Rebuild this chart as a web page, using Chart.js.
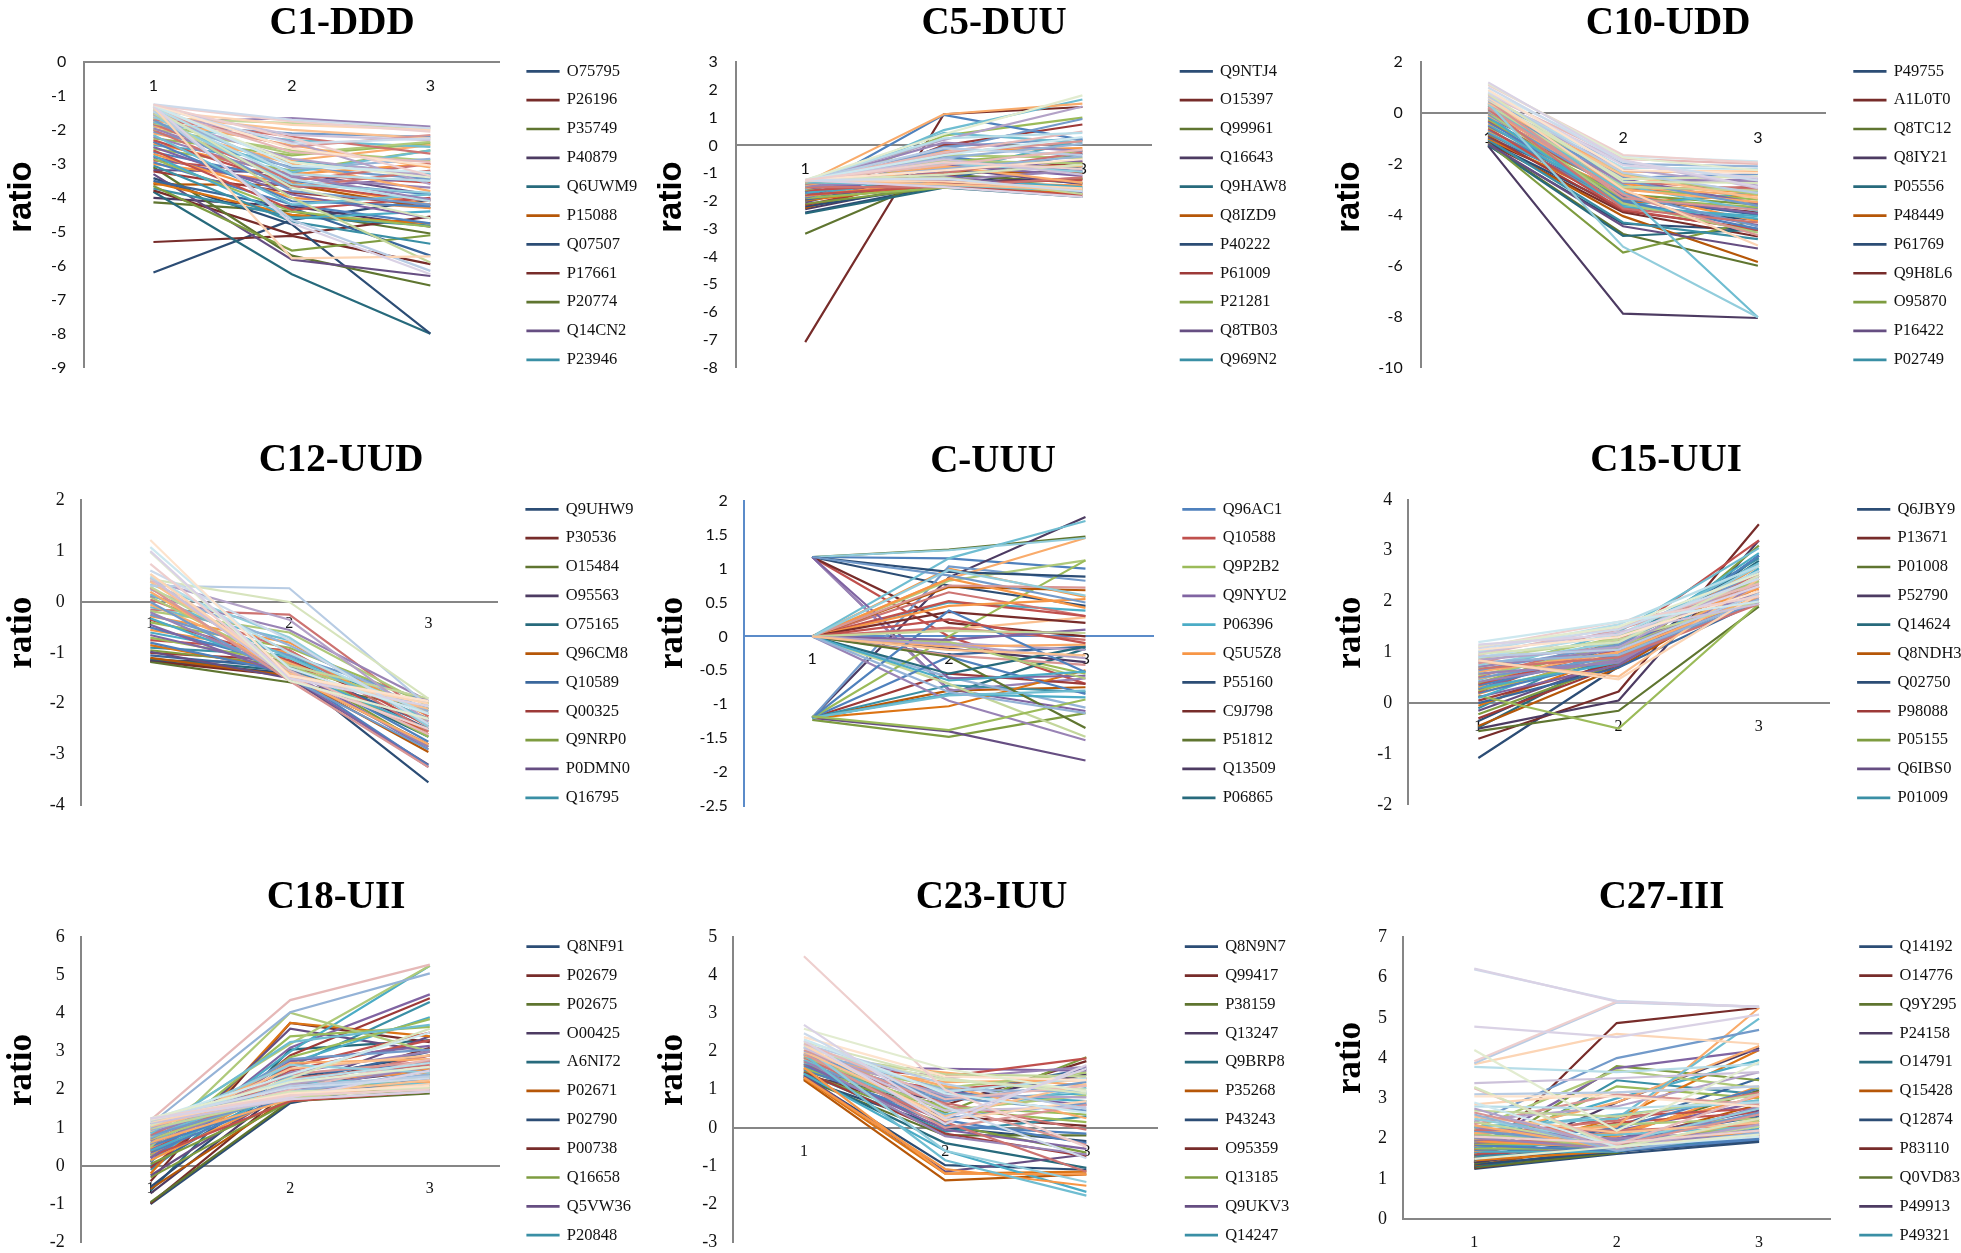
<!DOCTYPE html>
<html><head><meta charset="utf-8"><title>Protein ratio clusters</title>
<script src="https://cdn.jsdelivr.net/npm/chart.js@4/dist/chart.umd.js"></script>
<style>html,body{margin:0;padding:0;background:#fff;width:1961px;height:1253px;overflow:hidden}canvas{position:absolute;display:block;filter:blur(0.35px)}</style>
</head><body>
<script>
const categories=['1','2','3'];
const c1Ids=['O75795','P26196','P35749','P40879','Q6UWM9','P15088','Q07507','P17661','P20774','Q14CN2','P23946'];
const c1Lines=[[-6.2,-4.65,-4.05],[-5.3,-5.12,-5.95],[-4.13,-4.4,-5.05],[-4.0,-4.25,-4.85],[-3.82,-6.25,-8.0],[-3.6,-3.62,-4.3],[-3.42,-4.78,-8.0],[-3.78,-5.08,-4.55],[-3.1,-5.7,-6.58],[-3.3,-5.82,-6.3],[-3.72,-4.55,-4.82],[-3.55,-4.5,-4.75],[-3.5,-4.3,-5.7],[-3.22,-3.85,-4.2],[-3.65,-5.55,-5.1],[-3.18,-3.25,-3.9],[-3.05,-4.7,-5.35],[-3.0,-3.55,-4.2],[-2.95,-4.2,-4.75],[-2.9,-3.3,-3.55],[-2.85,-4.4,-4.85],[-2.8,-3.7,-3.4],[-2.75,-4.6,-4.4],[-2.7,-4.0,-4.3],[-2.65,-3.5,-3.9],[-2.6,-4.35,-4.0],[-2.55,-3.2,-2.6],[-2.5,-3.9,-4.6],[-2.45,-2.9,-3.3],[-2.4,-3.3,-3.0],[-2.35,-4.1,-4.25],[-2.3,-3.6,-4.1],[-2.25,-2.75,-2.4],[-2.2,-3.4,-3.7],[-2.15,-4.2,-3.9],[-2.1,-2.9,-2.45],[-2.05,-3.1,-3.45],[-2.0,-3.7,-3.2],[-1.98,-2.6,-2.9],[-1.95,-3.35,-4.05],[-1.9,-2.3,-2.5],[-1.88,-3.0,-3.8],[-1.85,-2.1,-2.2],[-1.82,-3.5,-3.0],[-1.8,-2.7,-2.35],[-1.78,-1.65,-1.9],[-1.75,-3.25,-2.6],[-1.72,-2.45,-3.1],[-1.7,-3.8,-4.2],[-1.68,-2.2,-2.7],[-1.65,-1.8,-1.95],[-1.62,-2.85,-3.35],[-1.6,-3.6,-3.85],[-1.58,-2.0,-2.25],[-1.55,-3.15,-2.85],[-1.52,-2.5,-2.15],[-1.5,-4.0,-5.9],[-1.48,-2.35,-3.6],[-1.46,-3.45,-4.1],[-1.44,-1.85,-2.0],[-1.42,-4.65,-6.15],[-1.4,-2.65,-2.95],[-1.38,-3.7,-4.6],[-1.36,-2.15,-2.3],[-1.34,-3.3,-3.5],[-1.32,-5.78,-5.72],[-1.31,-2.4,-2.25],[-1.28,-1.75,-2.05],[-1.29,-2.95,-3.4],[-1.3,-4.75,-6.25],[-1.27,-3.05,-3.25],[-1.26,-2.55,-3.05],[-1.25,-1.7,-1.95],[-1.25,-2.25,-3.35]];
const c5Ids=['Q9NTJ4','O15397','Q99961','Q16643','Q9HAW8','Q8IZD9','P40222','P61009','P21281','Q8TB03','Q969N2'];
const c5Lines=[[-2.42,-1.45,-0.75],[-7.08,1.12,1.38],[-3.18,-1.05,-1.35],[-2.3,-1.3,-1.2],[-2.45,-1.52,-1.85],[-2.25,-0.95,-1.0],[-2.2,-1.45,-1.55],[-2.15,-1.1,-0.6],[-2.1,-1.5,-1.2],[-2.05,-0.8,-1.4],[-2.0,-0.5,-0.85],[-1.98,-1.4,-1.75],[-1.95,-1.2,-0.3],[-1.92,0.0,0.75],[-1.9,-1.52,-1.6],[-1.88,-0.7,-1.1],[-1.85,-1.0,0.2],[-1.82,-1.3,-1.45],[-1.8,-0.4,-0.95],[-1.78,-1.45,-1.8],[-1.75,0.35,1.0],[-1.72,-0.9,-0.55],[-1.7,-1.2,-1.5],[-1.65,-0.2,-0.1],[-1.68,1.1,0.2],[-1.62,-1.35,-1.25],[-1.6,-0.6,-0.2],[-1.56,-1.1,-1.7],[-1.58,0.55,1.65],[-1.54,-0.8,-0.75],[-1.52,-0.05,0.25],[-1.5,-1.5,-1.15],[-1.48,-0.35,-0.45],[-1.46,-1.25,-0.9],[-1.44,0.45,0.1],[-1.42,-0.75,-1.35],[-1.4,-0.15,0.95],[-1.38,-1.0,-0.25],[-1.36,-0.55,-0.65],[-1.32,0.1,-0.2],[-1.33,-1.42,-1.65],[-1.34,1.12,1.5],[-1.31,-0.85,-0.4],[-1.3,-0.3,0.15],[-1.29,-1.15,-1.75],[-1.28,0.2,1.4],[-1.28,-0.65,-0.95],[-1.27,-1.4,-1.6],[-1.27,-0.45,0.05],[-1.26,-0.25,0.5],[-1.26,-1.05,-0.7],[-1.26,-0.5,-1.05],[-1.25,0.25,0.45],[-1.25,-1.3,-1.55],[-1.25,-0.1,-0.35],[-1.25,-0.7,-0.15],[-1.25,0.4,1.8],[-1.25,-1.5,-1.85],[-1.25,-0.35,0.3],[-1.25,-0.9,-0.5],[-1.25,-1.2,-1.65],[-1.25,-0.6,-0.85]];
const c10Ids=['P49755','A1L0T0','Q8TC12','Q8IY21','P05556','P48449','P61769','Q9H8L6','O95870','P16422','P02749'];
const c10Lines=[[-1.28,-4.35,-4.6],[-1.2,-3.9,-4.85],[-1.24,-4.75,-6.0],[-1.3,-7.88,-8.05],[-1.26,-4.83,-4.58],[-1.12,-4.05,-5.85],[-1.15,-3.75,-4.2],[-1.1,-3.4,-3.9],[-1.18,-5.48,-4.2],[-1.22,-4.45,-5.32],[-1.05,-4.3,-4.95],[-1.0,-3.55,-3.2],[-0.95,-3.3,-4.0],[-0.9,-3.85,-4.55],[-0.85,-3.2,-3.6],[-0.8,-3.5,-4.4],[-0.75,-3.65,-3.1],[-0.7,-3.1,-4.25],[-0.65,-3.4,-3.75],[-0.6,-3.8,-4.6],[-0.55,-2.95,-3.4],[-0.5,-3.25,-3.95],[-0.45,-3.6,-4.15],[-0.4,-2.8,-3.15],[-0.35,-3.45,-4.55],[-0.3,-3.05,-2.9],[-0.25,-3.35,-3.7],[-0.2,-2.6,-3.55],[-0.15,-3.7,-4.05],[-0.1,-2.9,-3.25],[-0.05,-3.15,-4.45],[0.0,-2.7,-3.0],[0.02,-3.55,-4.7],[0.05,-2.5,-2.7],[0.08,-2.85,-3.85],[0.1,-3.0,-3.5],[0.12,-2.55,-2.4],[0.15,-3.75,-4.3],[0.18,-2.4,-3.2],[0.2,-2.75,-2.6],[0.3,-3.1,-8.02],[0.25,-2.3,-2.3],[0.28,-2.65,-3.65],[0.22,-3.2,-4.8],[0.32,-2.9,-3.05],[0.35,-2.2,-2.85],[0.38,-5.25,-8.02],[0.4,-2.45,-3.35],[0.45,-2.0,-2.1],[0.5,-3.35,-3.8],[0.52,-2.6,-2.5],[0.55,-1.9,-2.95],[0.6,-2.15,-2.2],[0.62,-3.0,-5.2],[0.65,-2.35,-3.15],[0.7,-1.8,-2.0],[0.75,-2.7,-2.75],[0.8,-2.05,-2.55],[0.85,-1.7,-1.9],[0.9,-2.25,-2.35],[1.0,-1.9,-2.65],[1.1,-1.65,-1.95],[1.15,-1.75,-2.25],[1.2,-1.85,-2.9]];
const c12Ids=['Q9UHW9','P30536','O15484','O95563','O75165','Q96CM8','Q10589','Q00325','Q9NRP0','P0DMN0','Q16795'];
const c12Lines=[[-1.16,-1.4,-3.55],[-1.17,-1.45,-2.8],[-1.18,-1.58,-2.1],[-1.15,-1.2,-2.5],[-1.12,-1.35,-2.65],[-1.1,-1.45,-2.95],[-1.05,-1.3,-2.4],[-1.0,-1.15,-2.3],[-0.95,-1.25,-2.85],[-0.98,-1.5,-3.2],[-0.9,-1.05,-2.2],[-0.85,-1.35,-2.55],[-0.8,-1.4,-3.22],[-0.75,-0.95,-2.45],[-0.7,-1.2,-2.65],[-0.65,-1.3,-2.9],[-0.6,-1.1,-2.1],[-0.55,-1.0,-2.35],[-0.5,-1.25,-2.75],[-0.35,-1.15,-2.6],[-0.4,-0.9,-2.0],[-0.45,-1.45,-3.25],[-0.32,-1.35,-2.5],[-0.28,-0.8,-2.25],[-0.25,-1.05,-1.95],[-0.15,-0.25,-2.25],[-0.18,-0.6,-2.05],[-0.2,-1.4,-2.85],[-0.1,-0.75,-2.4],[-0.05,-1.2,-2.15],[0.0,-1.5,-2.9],[0.05,-0.95,-2.55],[0.1,-1.3,-2.0],[0.12,-0.55,-1.95],[0.15,-1.1,-2.3],[0.2,-1.45,-2.8],[0.25,-0.85,-2.15],[0.28,-1.55,-3.25],[0.3,-1.25,-1.9],[0.42,-0.35,-2.35],[0.35,-0.7,-2.45],[0.4,-1.4,-2.1],[0.32,0.27,-2.05],[0.45,-1.35,-2.6],[0.45,0.0,-1.9],[0.48,-1.5,-1.95],[0.5,-1.0,-2.2],[0.55,-1.45,-2.0],[0.62,-0.75,-2.4],[0.75,-1.5,-2.5],[0.98,-1.55,-2.3],[1.0,-1.5,-2.05],[1.08,-1.3,-2.2],[1.22,-1.45,-1.95]];
const cUIds=['Q96AC1','Q10588','Q9P2B2','Q9NYU2','P06396','Q5U5Z8','P55160','C9J798','P51812','Q13509','P06865'];
const cULines=[[1.17,1.15,1.0],[1.17,0.0,-0.7],[0,-0.1,-0.55],[1.17,-0.78,-1.1],[0,0.5,0.38],[0,1.0,0.58],[1.17,0.75,0.45],[1.17,0.2,0.0],[1.17,1.28,1.47],[-1.2,0.87,1.76],[-1.2,-0.85,-0.18],[-1.2,-0.8,-0.75],[-1.2,1.03,0.82],[0,0.65,0.3],[0,0.82,1.12],[1.17,-0.8,-0.62],[0,1.15,1.7],[0,0.85,1.45],[0,-0.27,-0.15],[-1.2,-0.55,-0.7],[-1.23,-1.48,-1.13],[-1.2,-1.4,-1.83],[-1.2,-0.72,-0.82],[-1.2,-1.03,-0.5],[0,-0.6,-1.05],[0,-0.28,-0.42],[0,-0.7,-1.48],[0,-0.1,-0.2],[1.17,1.27,1.45],[0,0.1,0.28],[-1.2,-0.3,-0.85],[0,0.52,0.3],[-1.2,0,1.12],[1.17,-0.62,-0.58],[-1.2,-0.85,-0.9],[0,0.45,0.55],[1.17,0.95,0.88],[0,0.36,0.2],[0,-0.3,-1.35],[0,-0.18,-0.38],[0,-0.55,-0.15],[0,0.73,0.68],[1.17,0.9,0.5],[0,0.13,-0.05],[0,-0.08,-0.62],[0,-0.95,-1.53],[-1.2,-0.87,-0.8],[0,-0.15,-0.12],[-1.2,0.38,-0.53],[0,0.25,-0.1],[-1.18,-1.38,-0.93],[0,-0.05,0.1],[0,-0.65,-0.52],[0,0.85,0.42],[0,-0.82,-1.13],[0,0.75,0.72],[0,0.08,0.05],[0,-0.12,-0.32],[0,0.98,0.6],[0,-0.2,-0.28]];
const c15Ids=['Q6JBY9','P13671','P01008','P52790','Q14624','Q8NDH3','Q02750','P98088','P05155','Q6IBS0','P01009'];
const c15Lines=[[-1.08,0.72,2.9],[-0.7,0.23,3.52],[-0.55,-0.15,1.9],[-0.5,0.05,3.2],[-0.48,0.95,2.8],[-0.45,0.7,2.3],[-0.35,0.9,2.9],[-0.3,0.75,2.45],[-0.22,0.78,3.1],[-0.15,0.85,2.6],[-0.1,1.2,2.85],[-0.05,0.95,2.2],[0.0,0.7,2.0],[0.05,0.8,2.5],[0.15,-0.5,1.95],[0.12,0.75,2.3],[0.1,1.1,2.95],[0.18,1.0,2.7],[0.2,0.85,2.1],[0.22,1.25,3.2],[0.25,0.9,2.4],[0.28,1.15,2.15],[0.3,0.8,2.65],[0.32,1.35,2.25],[0.35,0.95,2.9],[0.38,1.05,2.05],[0.4,1.2,2.45],[0.42,0.85,2.2],[0.45,1.3,2.75],[0.48,1.0,2.3],[0.5,0.9,2.0],[0.52,1.25,2.55],[0.55,1.1,2.15],[0.58,0.8,2.35],[0.6,1.4,3.05],[0.62,1.0,2.1],[0.65,1.15,2.6],[0.68,0.9,1.95],[0.7,1.3,2.4],[0.72,1.05,2.2],[0.75,1.2,2.7],[0.82,0.52,2.45],[0.8,0.95,2.05],[0.78,1.45,2.3],[0.88,1.25,2.0],[0.85,1.1,2.5],[0.9,1.35,2.6],[0.84,0.47,2.15],[0.92,1.05,2.15],[0.95,1.5,2.35],[0.97,1.2,2.5],[1.0,1.4,1.95],[1.02,1.55,2.7],[1.05,1.3,2.2],[1.08,1.45,2.45],[1.1,1.6,2.1],[1.12,1.5,2.55],[1.15,1.35,2.3],[1.2,1.6,2.0]];
const c18Ids=['Q8NF91','P02679','P02675','O00425','A6NI72','P02671','P02790','P00738','Q16658','Q5VW36','P20848'];
const c18Lines=[[-1.0,1.65,2.3],[-0.98,2.0,3.1],[-0.95,1.7,1.9],[-0.72,2.1,2.5],[-0.65,3.05,3.3],[-0.6,1.8,2.1],[-0.55,2.3,2.9],[-0.4,3.75,3.25],[-0.3,1.7,2.0],[-0.25,2.05,3.4],[-0.1,2.6,4.3],[-0.2,3.75,3.4],[0.0,2.2,3.0],[-0.05,2.9,4.4],[0.05,1.75,2.4],[0.1,3.6,3.0],[0.12,2.7,3.9],[0.15,1.9,2.2],[0.22,2.4,2.7],[0.25,1.7,1.95],[0.28,2.85,3.85],[0.2,3.1,4.5],[0.3,3.0,5.25],[0.32,2.15,2.55],[0.35,1.85,2.75],[0.38,2.5,3.3],[0.45,3.4,3.65],[0.42,2.75,3.15],[0.4,1.95,2.1],[0.48,2.25,2.45],[0.52,1.8,2.3],[0.55,2.6,3.5],[0.5,4.02,3.0],[0.58,2.0,2.6],[0.6,2.35,2.05],[0.62,1.75,2.2],[0.65,2.8,3.05],[0.68,2.1,2.9],[0.7,1.9,2.35],[0.72,2.45,3.0],[0.75,2.2,2.15],[0.78,2.7,2.8],[0.8,1.85,2.5],[0.82,2.3,2.65],[0.9,3.2,5.25],[0.87,2.05,2.0],[0.85,3.25,3.7],[0.92,2.55,2.9],[0.94,1.95,2.4],[0.96,2.4,2.75],[0.98,1.8,2.05],[1.0,2.15,2.6],[1.02,2.65,2.45],[1.04,1.9,2.25],[1.1,4.03,5.05],[1.08,2.0,2.8],[1.06,2.3,3.6],[1.12,1.75,1.95],[1.14,2.25,2.7],[1.16,1.85,2.15],[1.18,2.1,2.35],[1.2,4.35,5.28],[1.2,1.95,2.05],[1.22,1.8,2.5],[1.22,2.4,3.5],[1.23,1.9,2.1],[1.24,2.05,2.3],[1.25,1.85,2.0],[1.25,2.2,2.6],[1.25,1.75,1.95]];
const c23Ids=['Q8N9N7','Q99417','P38159','Q13247','Q9BRP8','P35268','P43243','O95359','Q13185','Q9UKV3','Q14247'];
const c23Lines=[[1.27,0.0,-0.35],[1.3,0.6,1.75],[1.28,-0.2,-0.2],[1.35,0.7,1.4],[1.37,-0.4,-1.05],[1.25,-1.38,-1.22],[1.34,-0.98,-1.1],[1.4,0.3,0.05],[1.44,0.1,-0.65],[1.38,-1.15,-0.7],[1.45,-0.1,0.3],[1.3,-1.2,-1.15],[1.47,0.85,1.55],[1.48,-0.15,-0.75],[1.5,0.4,1.85],[1.52,0.95,0.6],[1.42,-0.6,-1.68],[1.32,-1.08,-1.52],[1.54,0.2,-0.4],[1.55,1.0,1.3],[1.56,0.5,0.15],[1.6,1.55,1.5],[1.62,0.75,0.9],[1.58,-1.2,-1.22],[1.64,0.05,-0.15],[1.65,1.35,1.82],[1.67,0.55,0.35],[1.68,-0.05,-0.55],[1.7,0.9,0.7],[1.72,1.2,1.25],[1.74,0.25,0.65],[1.75,0.65,-0.05],[1.77,1.05,1.45],[1.78,-0.22,-0.7],[1.8,0.35,1.05],[1.82,1.45,1.1],[1.84,0.8,0.45],[1.85,0.15,-1.15],[1.87,0.45,0.85],[1.88,1.3,1.6],[1.92,-0.85,-1.78],[1.9,1.1,0.25],[1.94,0.7,1.2],[1.95,0.0,0.6],[1.96,1.4,1.35],[1.98,0.85,0.8],[2.12,-0.6,-1.42],[2.0,0.3,1.15],[2.02,1.0,0.95],[2.05,0.6,-0.45],[2.08,1.25,1.0],[2.1,0.45,0.55],[2.15,0.95,1.3],[2.18,0.2,0.7],[2.2,1.15,0.5],[2.22,0.75,1.1],[2.25,1.3,0.9],[2.28,0.1,1.65],[2.32,0.9,0.4],[2.38,1.35,1.25],[2.48,0.55,-0.8],[4.5,1.0,-0.5],[2.6,1.55,0.95],[2.7,0.25,1.55]];
const c27Ids=['Q14192','O14776','Q9Y295','P24158','O14791','Q15428','Q12874','P83110','Q0VD83','P49913','P49321'];
const c27Lines=[[1.25,1.62,1.92],[1.27,1.7,2.1],[1.29,1.65,2.45],[1.3,2.9,4.25],[1.32,1.75,2.0],[1.34,1.9,2.85],[1.36,1.68,1.95],[1.4,4.87,5.25],[1.38,2.1,3.2],[1.42,1.8,2.3],[1.44,3.45,3.1],[1.46,1.7,2.15],[1.48,2.3,3.5],[1.5,1.85,2.05],[1.52,3.8,3.45],[1.54,2.0,2.7],[1.56,1.72,2.0],[1.58,2.5,4.2],[1.6,1.95,2.55],[1.62,1.78,2.1],[1.64,3.3,3.0],[1.66,2.2,2.9],[1.68,1.68,2.25],[1.7,2.05,3.3],[1.72,1.82,2.0],[1.74,2.4,2.65],[1.76,1.75,2.4],[1.78,3.75,4.2],[1.8,1.9,2.15],[1.82,2.15,3.05],[1.84,1.7,1.98],[1.86,2.55,2.75],[1.88,1.85,2.35],[1.9,2.0,2.6],[1.92,3.0,3.95],[1.94,1.78,2.2],[1.96,2.25,3.25],[1.98,1.88,2.05],[2.0,2.35,2.5],[2.02,1.75,2.8],[2.04,2.1,2.3],[2.06,2.9,4.3],[2.08,1.9,2.1],[2.1,2.45,3.15],[2.12,1.8,2.45],[2.16,2.0,2.2],[2.18,2.6,2.95],[2.14,2.3,5.25],[2.2,1.85,2.65],[2.22,2.2,2.35],[2.25,3.7,3.25],[2.28,1.95,2.05],[2.3,2.5,4.98],[2.33,1.75,2.5],[2.4,4.0,4.7],[2.36,3.1,2.85],[2.42,1.8,2.3],[2.45,2.8,3.65],[2.5,1.9,2.75],[2.55,2.15,2.4],[2.6,1.7,2.15],[2.65,1.85,2.6],[2.7,2.55,3.1],[2.75,1.75,2.35],[2.8,2.75,2.9],[2.85,3.15,3.3],[3.1,3.15,3.3],[3.25,1.85,3.1],[3.28,1.78,2.5],[3.38,3.5,3.65],[3.78,3.65,3.85],[3.85,4.6,4.35],[3.87,5.38,5.27],[3.92,5.4,5.27],[4.2,2.2,3.9],[4.78,4.52,5.08],[2.9,1.8,2.05],[3.05,3.05,2.8],[6.2,5.42,5.27],[2.05,1.9,2.2],[1.5,1.8,2.1],[6.22,5.4,5.28]];

const tierD2=['#2c4d75','#772c2a','#5f7530','#4d3b62','#276a7c','#b65708'];
const tierD1=['#3a679c','#9d3a38','#7e9c40','#664e82','#3a8fa5','#dc7414'];
const tierM=['#4f81bd','#c0504d','#9bbb59','#8064a2','#4bacc6','#f79646'];
const tierL1=['#729aca','#cd7371','#afc97a','#9983b5','#6fbdd1','#f9ab6b'];
const tierL2=['#95b3d7','#d99694','#c3d69b','#b3a2c7','#92cddc','#fac090'];
const tierL3=['#b8cce4','#e6b9b8','#d7e4bd','#ccc1da','#b7dde8','#fcd5b5'];
const tierL4=['#cddaeb','#eecfce','#e2ecd0','#dad2e5','#cde8ef','#fde3cd'];
const rampOrder=[tierD2,tierD1,tierM,tierM,tierL1,tierL1,tierL2,tierL3,tierL4];
const cycleOrder=[tierM,tierD2,tierL1,tierD1,tierL2,tierM,tierD2,tierL1,tierM,tierL2];

const SANS='Lato', SERIF='"Liberation Serif"', RATIO_SANS='"Liberation Sans"';
const panels=[
 {t:'C1-DDD',ids:c1Ids,lines:c1Lines,min:-9,max:0,step:1,box:[0,0,650,400],L:84.2,R:499.6,T:62,B:367.7,tx:342,ty:23.5,rx:22,ry:197,lx:527.5,ly:71.3,xo:14.5,gap:18,tf:SANS,rf:RATIO_SANS,rs:33,axis:'#868686'},
 {t:'C5-DUU',ids:c5Ids,lines:c5Lines,min:-8,max:3,step:1,box:[650,0,650,400],L:735.9,R:1151.7,T:62,B:367.7,tx:994,ty:23.5,rx:672,ry:197,lx:1180.8,ly:71.3,xo:14,gap:18,tf:SANS,rf:RATIO_SANS,rs:33,axis:'#868686'},
 {t:'C10-UDD',ids:c10Ids,lines:c10Lines,min:-10,max:2,step:2,box:[1300,0,661,400],L:1420.8,R:1825.3,T:62,B:367.7,tx:1668,ty:23.5,rx:1350,ry:197,lx:1854.4,ly:71.3,xo:15,gap:18,tf:SANS,rf:RATIO_SANS,rs:33,axis:'#868686'},
 {t:'C12-UUD',ids:c12Ids,lines:c12Lines,min:-4,max:2,step:1,box:[0,430,650,410],L:80.8,R:497.9,T:500.3,B:805.3,tx:341,ty:460.8,rx:22,ry:632.7,lx:526.5,ly:509.3,xo:12.5,gap:16,tf:SERIF,rf:SERIF,rs:35,axis:'#868686'},
 {t:'C-UUU',ids:cUIds,lines:cULines,min:-2.5,max:2,step:0.5,box:[650,430,650,410],L:743.9,R:1153.8,T:500.7,B:806,tx:993,ty:461.5,rx:673,ry:633,lx:1183.4,ly:509.3,xo:13,gap:16,tf:SANS,rf:SERIF,rs:35,axis:'#5b8bc9',cycle:true},
 {t:'C15-UUI',ids:c15Ids,lines:c15Lines,min:-2,max:4,step:1,box:[1300,430,661,410],L:1408.2,R:1829,T:499.8,B:804.8,tx:1666,ty:460.8,rx:1350.5,ry:632.7,lx:1858.2,ly:509.3,xo:14,gap:16,tf:SERIF,rf:SERIF,rs:35,axis:'#868686'},
 {t:'C18-UII',ids:c18Ids,lines:c18Lines,min:-2,max:6,step:1,box:[0,860,650,430],L:80.8,R:499.6,T:937.2,B:1242.2,tx:336,ty:897.5,rx:22,ry:1070,lx:527.5,ly:946.7,xo:13,gap:16,tf:SERIF,rf:SERIF,rs:35,axis:'#868686'},
 {t:'C23-IUU',ids:c23Ids,lines:c23Lines,min:-3,max:5,step:1,box:[650,860,650,430],L:733.3,R:1157,T:937.2,B:1242.2,tx:991.5,ty:897.5,rx:673,ry:1070,lx:1185.9,ly:946.7,xo:14,gap:16,tf:SERIF,rf:SERIF,rs:35,axis:'#868686'},
 {t:'C27-III',ids:c27Ids,lines:c27Lines,min:0,max:7,step:1,box:[1300,860,661,430],L:1403.1,R:1830.3,T:937.2,B:1219.3,tx:1661.5,ty:897.5,rx:1350.5,ry:1058,lx:1860.3,ly:946.7,xo:14,gap:16,tf:SERIF,rf:SERIF,rs:35,axis:'#868686'}
];
const LEG_FONT=16.5, LEG_STEP=28.85, TITLE_FONT=39;

const placer={id:'placer',afterLayout(chart){
  const o=chart.options.plugins.placer;
  const l=chart.legend, pad=LEG_STEP-LEG_FONT;
  l.maxHeight=2000;l.fit();
  l.left=o.lx-pad;l.right=l.left+l.width;
  l.top=o.ly-pad-LEG_FONT/2;l.bottom=l.top+2000;
  const t=chart.titleBlock;
  t.left=o.tx-300;t.right=o.tx+300;t.top=o.ty-TITLE_FONT*0.6;
},afterDraw(chart){
  const o=chart.options.plugins.placer,c=chart.ctx;
  c.save();c.translate(o.rx,o.ry);c.rotate(-Math.PI/2);
  c.font='bold '+o.rs+'px '+o.rf;c.fillStyle='#000';c.textAlign='center';c.textBaseline='middle';
  c.fillText('ratio',0,0);c.restore();
}};

panels.forEach(p=>{
  const [cx,cy,cw,ch]=p.box;
  const cv=document.createElement('canvas');
  cv.width=cw;cv.height=ch;cv.style.left=cx+'px';cv.style.top=cy+'px';cv.style.width=cw+'px';cv.style.height=ch+'px';
  document.body.appendChild(cv);
  const n=p.lines.length;
  const datasets=p.lines.map((v,i)=>{
    const tier=p.cycle?cycleOrder[Math.floor(i/6)%cycleOrder.length]:rampOrder[Math.floor(i/n*rampOrder.length)];
    const col=tier[i%6];
    return {label:p.ids[i]||'',data:v,borderColor:col,backgroundColor:col,borderWidth:2.2,pointRadius:0,tension:0,fill:false,order:n-i};
  });
  new Chart(cv,{type:'line',data:{labels:categories,datasets},plugins:[placer],options:{
    responsive:false,animation:false,events:[],devicePixelRatio:1,
    layout:{autoPadding:false,padding:{left:0,top:0,right:cx+cw-p.R,bottom:cy+ch-p.B}},
    plugins:{
      placer:{lx:p.lx-cx,ly:p.ly-cy,tx:p.tx-cx,ty:p.ty-cy,rx:p.rx-cx,ry:p.ry-cy,rf:p.rf,rs:p.rs},
      tooltip:{enabled:false},
      title:{display:true,text:p.t,color:'#000',font:{family:SERIF,size:TITLE_FONT,weight:'bold',lineHeight:1.2},padding:{top:0,bottom:(p.T-cy)-TITLE_FONT*1.2}},
      legend:{display:true,position:'chartArea',align:'start',labels:{
        filter:it=>it.datasetIndex<11,sort:(a,b)=>a.datasetIndex-b.datasetIndex,boxWidth:31,boxHeight:0.5,color:'#111',
        padding:LEG_STEP-LEG_FONT,font:{family:SERIF,size:LEG_FONT}}}
    },
    scales:{
      x:{type:'category',offset:true,position:{y:0},grid:{display:false,drawTicks:false},
         border:{display:true,color:p.axis,width:2},
         ticks:{padding:p.xo,color:'#111',maxRotation:0,font:{family:p.tf,size:16}}},
      y:{type:'linear',min:p.min,max:p.max,grid:{display:false,drawTicks:false},
         border:{display:true,color:p.axis,width:2},
         afterFit:s=>{s.width=p.L-cx;},
         ticks:{stepSize:p.step,autoSkip:false,padding:p.gap,color:'#111',callback:v=>String(v),font:{family:p.tf,size:p.tf===SERIF?18:16}}}
    }
  }});
});
</script>
</body></html>
